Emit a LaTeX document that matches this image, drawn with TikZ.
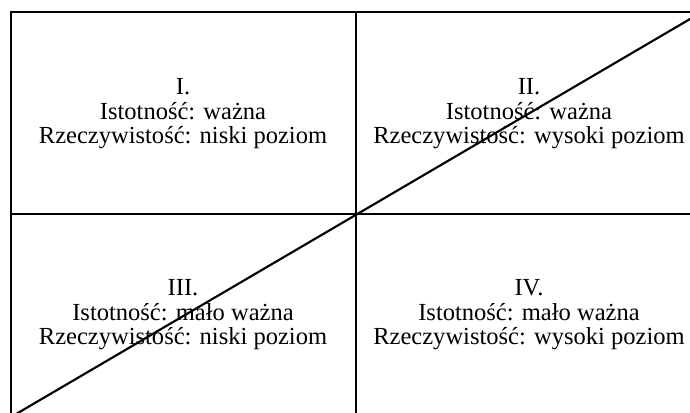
\documentclass[tikz,border=0pt]{standalone}
\usepackage{fontspec}
\setmainfont{Liberation Serif}
\begin{document}
\begin{tikzpicture}[x=0.75pt,y=-0.75pt,
  frame/.style={line width=1.7pt,black},
  diag/.style={line width=1.6pt,black},
  quad/.style={align=center,inner sep=0pt,font=\fontsize{18.4}{18.4}\selectfont}]
\useasboundingbox (0,0) rectangle (690,412);
\clip (0,0) rectangle (690,412);
\coordinate (tl) at (11,12);
\coordinate (tr) at (702,12);
\coordinate (bl) at (11,417);
\coordinate (br) at (702,417);
\coordinate (tm) at (356,12);
\coordinate (bm) at (356,417);
\coordinate (lm) at (11,214);
\coordinate (rm) at (702,214);
\draw[frame] (tl) rectangle (br);
\draw[frame] (tm) -- (bm);
\draw[frame] (lm) -- (rm);
\draw[diag] (bl) -- (tr);
\node[quad] (q1) at (183,114) {I.\\Istotność: ważna\\Rzeczywistość: niski poziom};
\node[quad] (q2) at (529,114) {II.\\Istotność: ważna\\Rzeczywistość: wysoki poziom};
\node[quad] (q3) at (183,315) {III.\\Istotność: mało ważna\\Rzeczywistość: niski poziom};
\node[quad] (q4) at (529,315) {IV.\\Istotność: mało ważna\\Rzeczywistość: wysoki poziom};
\end{tikzpicture}
\end{document}
